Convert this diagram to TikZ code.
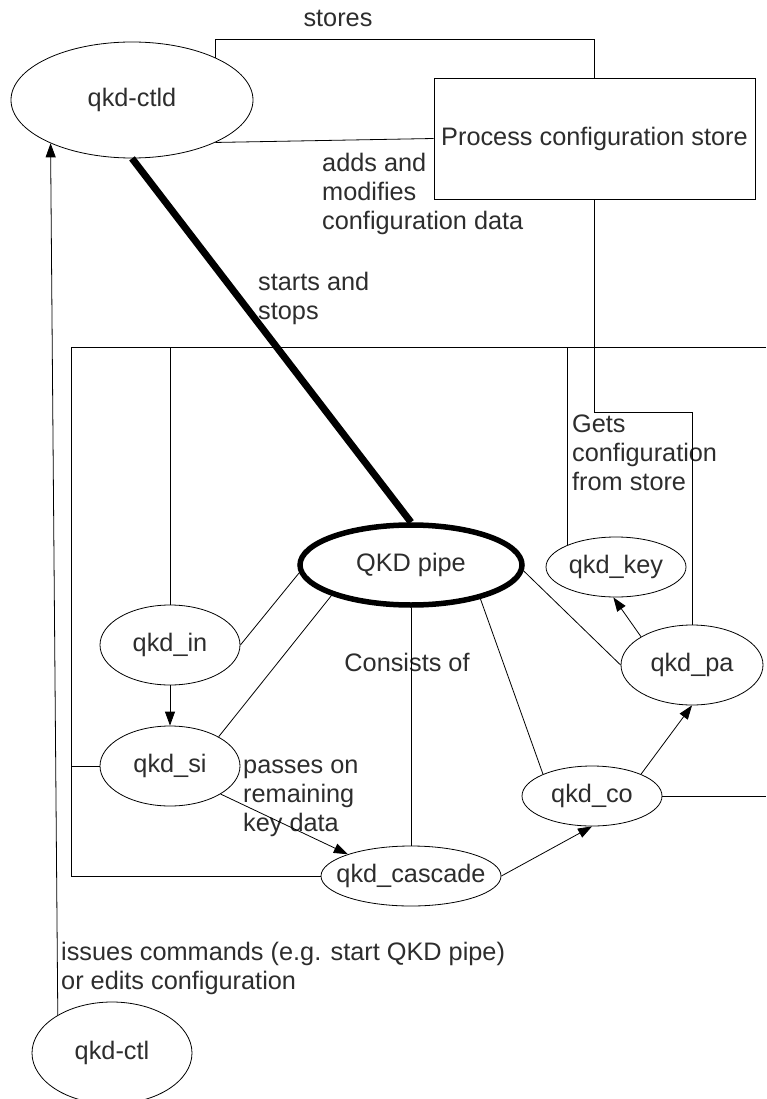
\documentclass[tikz,border=0pt]{standalone}
\usepackage{fontspec}
\setmainfont{Liberation Sans}
\usetikzlibrary{shapes.geometric,arrows.meta}
\definecolor{ink}{RGB}{45,45,45}
\begin{document}
\begin{tikzpicture}[x=1pt,y=-1pt,
 every node/.style={font=\fontsize{25.3}{29}\selectfont, text=ink},
 proc/.style={ellipse, draw=black, line width=0.8pt, inner sep=0pt},
 lbl/.style={inner sep=0pt, align=left, anchor=west},
 conn/.style={draw=black, line width=0.8pt},
 arr/.style={conn, -{Triangle[length=14pt,width=10pt]}},
]
\useasboundingbox (0,0) rectangle (766,1099);
\fill[white] (0,0) rectangle (766,1099);

% nodes
\node[proc, minimum width=242pt, minimum height=116pt] (ctld) at (132,100) {qkd-ctld};
\node[draw=black, line width=0.8pt, minimum width=321pt, minimum height=121pt, inner sep=0pt] (store) at (594.5,138.5) {Process configuration store};
\node[proc, line width=5.5pt, minimum width=222pt, minimum height=80pt] (pipe) at (411,565) {QKD pipe};
\node[proc, minimum width=140pt, minimum height=60pt] (key) at (616,567) {qkd\_key};
\node[proc, minimum width=140pt, minimum height=80pt] (in) at (170,645) {qkd\_in};
\node[proc, minimum width=140pt, minimum height=80pt] (si) at (170,766) {qkd\_si};
\node[proc, minimum width=142pt, minimum height=80pt] (pa) at (692,665) {qkd\_pa};
\node[proc, minimum width=140pt, minimum height=60pt] (co) at (592,796) {qkd\_co};
\node[proc, inner xsep=-20pt, minimum width=180pt, minimum height=60pt] (casc) at (411,876) {qkd\_cascade};
\node[proc, minimum width=160pt, minimum height=102pt] (ctl) at (112,1053) {qkd-ctl};

% labels
\node[inner sep=0pt] (lstores) at (338,18) {stores};
\node[lbl] (ladds) at (322,194) {adds and\\modifies\\configuration data};
\node[lbl] (lstarts) at (258,298) {starts and\\stops};
\node[lbl] (lgets) at (572,453) {Gets\\configuration\\from store};
\node[inner sep=0pt] (lcons) at (407,662) {Consists of};
\node[lbl] (lpasses) at (243,798) {passes on\\remaining\\key data};
\node[lbl] (lissues) at (61,968) {issues commands (e.g. start QKD pipe)\\or edits configuration};

% boundary
\coordinate (btr) at (766,347);
\coordinate (btl) at (71,347);
\coordinate (bbl) at (71,876);
\draw[conn] (btr) -- (btl) -- (bbl) -- (casc.west);
\draw[conn] (si.west) -- (si.west -| btl);
\draw[conn] (co.east) -- (co.east -| btr);
\draw[conn] (in.north) -- (in.north |- btl);
\draw[conn] (key.156) -- (key.156 |- btl);

% store connections
\draw[conn] (ctld.27) |- (store.north |- 0,39) -- (store.north);
\draw[conn] (ctld.-27) -- (store.west);
\draw[conn] (store.south) |- (pa.north |- 0,412) -- (pa.north);

% control
\draw[draw=black, line width=7pt] (ctld.south) -- (pipe.north);
\draw[arr] (ctl.145) -- (ctld.208);

% pipe consists of
\draw[conn] (pipe.184) -- (in.east);
\draw[conn] (pipe.201) -- (si.31);
\draw[conn] (pipe.south) -- (casc.north);
\draw[conn] (pipe.-26) -- (co.156);
\draw[conn] (pipe.-3) -- (pa.west);

% data flow
\draw[arr] (in.south) -- (si.north);
\draw[arr] (si.-29) -- (casc.161);
\draw[arr] (casc.east) -- (co.south);
\draw[arr] (co.24) -- (pa.south);
\draw[arr] (pa.151) -- (key.-95);
\end{tikzpicture}
\end{document}
